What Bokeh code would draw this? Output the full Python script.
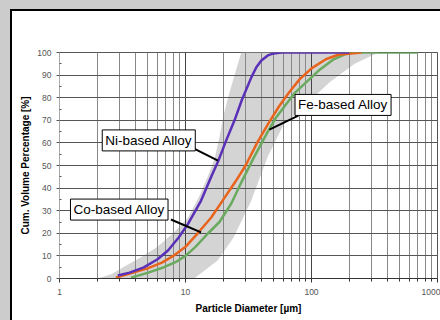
from bokeh.plotting import figure
from bokeh.models import Label, FixedTicker, Range1d, BasicTickFormatter
from bokeh.embed import file_html
from bokeh.resources import INLINE

# --- data ---
ni_x = [2.9, 3.6, 4.67, 6.0, 7.26, 8.8, 10.5, 13.3, 16.0, 18.2, 21.0, 24.5, 28.0, 33.3, 36.5, 40.0, 45.0, 50.0, 58.0, 100.0, 200.0]
ni_y = [1.3, 2.6, 4.9, 8.5, 12.4, 18.0, 24.3, 34.5, 45.0, 52.0, 61.0, 70.0, 79.0, 89.0, 93.5, 96.5, 98.7, 99.6, 100.0, 100.0, 100.0]

fe_x = [2.8, 3.5, 5.0, 6.5, 8.0, 10.0, 12.5, 16.0, 20.0, 25.0, 30.0, 37.0, 45.5, 55.0, 65.6, 80.0, 100.0, 130.0, 163.0, 250.0]
fe_y = [0.4, 2.0, 4.5, 7.0, 10.0, 14.0, 20.0, 27.0, 35.0, 43.0, 50.0, 60.0, 68.6, 76.0, 82.0, 88.0, 93.0, 97.0, 99.0, 100.0]

co_x = [3.7, 5.0, 6.75, 8.5, 10.0, 12.0, 15.0, 18.6, 23.0, 28.0, 35.0, 45.0, 52.0, 73.0, 114.0, 150.0, 198.0, 700.0]
co_y = [0.4, 2.5, 5.0, 7.5, 10.0, 14.0, 19.8, 25.0, 33.0, 43.0, 53.7, 65.0, 71.0, 81.9, 92.0, 97.0, 100.0, 100.0]

band_x = [2.0, 2.6, 3.2, 4.4, 6.0, 8.0, 10.5, 13.0, 15.0, 17.0, 18.5, 20.0, 22.0, 24.5, 27.7,
          340.0, 220.0, 140.0, 90.0, 60.0, 45.0, 33.0, 24.0, 18.0, 11.7]
band_y = [0.0, 2.0, 5.0, 9.3, 14.0, 20.0, 27.0, 37.0, 45.0, 53.0, 62.0, 72.0, 81.0, 90.0, 100.0,
          100.0, 95.0, 87.0, 77.0, 68.0, 54.0, 34.0, 18.0, 8.0, 0.0]

x_major = [1, 10, 100, 1000]
x_minor = [k * 10 ** e for e in range(3) for k in range(2, 10)]
y_major = list(range(0, 101, 10))
y_minor = list(range(5, 100, 10))

label_texts = ["Ni-based Alloy", "Fe-based Alloy", "Co-based Alloy"]
label_x = [5.11, 178.0, 2.98]
label_y = [61.1, 76.8, 30.5]
leader_x0 = [11.7, 78.6, 7.66]
leader_y0 = [57.5, 72.1, 26.1]
leader_x1 = [18.1, 46.3, 13.3]
leader_y1 = [52.2, 65.9, 20.4]

FONT = "Liberation Sans"

p = figure(width=430, height=309, x_axis_type="log",
           x_range=Range1d(1, 1000), y_range=Range1d(0, 100),
           output_backend="svg", toolbar_location=None,
           min_border_left=47, min_border_right=5, min_border_top=41, min_border_bottom=42)
p.background_fill_color = "white"
p.border_fill_color = "white"
p.outline_line_color = "#555555"

# grids
p.xaxis.ticker = FixedTicker(ticks=x_major, minor_ticks=x_minor)
p.xaxis.formatter = BasicTickFormatter()
p.yaxis.ticker = FixedTicker(ticks=y_major, minor_ticks=y_minor)
p.xgrid.grid_line_color = "#444444"
p.xgrid.minor_grid_line_color = "#888888"
p.ygrid.grid_line_color = "#555555"
p.xgrid.grid_line_width = 1
p.ygrid.grid_line_width = 1

# band
band = p.patch(band_x, band_y, fill_color="#d4d4d4", line_color=None)
band.level = "image"

# curves
p.line(co_x, co_y, line_color="#6aaa5f", line_width=2.5)
p.line(fe_x, fe_y, line_color="#e8641c", line_width=2.5)
p.line(ni_x, ni_y, line_color="#5b30b8", line_width=2.5)

# leaders
p.segment(leader_x0, leader_y0, leader_x1, leader_y1, line_color="black", line_width=2)

for t, lx, ly in zip(label_texts, label_x, label_y):
    p.add_layout(Label(x=lx, y=ly, text=t, text_align="center", text_baseline="middle",
                       text_font=FONT, text_font_size="13.5px", text_color="black",
                       border_line_color="black", border_line_width=1,
                       background_fill_color="white", padding=3))

# axes
for ax in (p.xaxis[0], p.yaxis[0]):
    ax.major_label_text_font = FONT
    ax.major_label_text_font_size = "8.5px"
    ax.major_label_text_color = "#555555"
    ax.axis_label_text_font = FONT
    ax.axis_label_text_font_size = "10px"
    ax.axis_label_text_font_style = "bold"
    ax.axis_label_text_color = "black"

p.xaxis.axis_label = "Particle Diameter [µm]"
p.yaxis.axis_label = "Cum. Volume Percentage [%]"

p.xaxis.axis_line_color = "#333333"
p.xaxis.major_tick_line_color = "#333333"
p.xaxis.minor_tick_line_color = "#333333"
p.xaxis.major_tick_out = 4
p.xaxis.major_tick_in = 0
p.xaxis.minor_tick_out = 3
p.xaxis.minor_tick_in = 0
p.xaxis.major_label_standoff = 6
p.xaxis.axis_label_standoff = 5

p.yaxis.axis_line_color = "#aaaaaa"
p.yaxis.major_tick_line_color = "#555555"
p.yaxis.minor_tick_line_color = "#555555"
p.yaxis.major_tick_out = 3
p.yaxis.major_tick_in = 0
p.yaxis.minor_tick_out = 0
p.yaxis.minor_tick_in = 2
p.yaxis.major_label_standoff = 5
p.yaxis.axis_label_standoff = 3

p.styles = {"border-left": "2px solid black", "border-top": "2px solid black"}

html = file_html(p, INLINE)
css = ("<style>html,body{margin:0 !important;overflow:hidden !important;}"
       "body{padding:9px 0 0 10px !important;"
       "background:linear-gradient(#cccccc,#cccccc) 0 0/100% 9px no-repeat,"
       "linear-gradient(#cccccc,#cccccc) 0 0/10px 100% no-repeat,"
       "linear-gradient(#000,#000) 10px 9px/100% 2px no-repeat,"
       "linear-gradient(#000,#000) 10px 9px/2px 100% no-repeat,#ffffff !important;}</style>")
html = html.replace("</head>", css + "</head>", 1)
open("out.html", "w").write(html)
